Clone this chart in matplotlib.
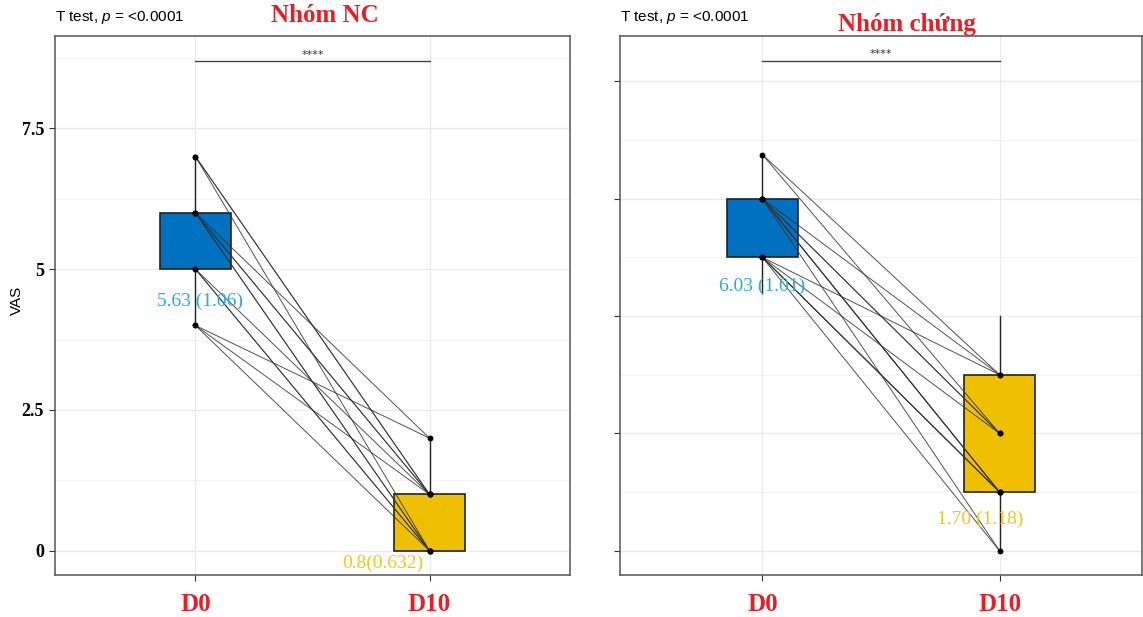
#!/usr/bin/env python3

import matplotlib
matplotlib.use('Agg')
import matplotlib.pyplot as plt

plt.rcParams['mathtext.fontset'] = 'custom'
plt.rcParams['mathtext.rm'] = 'Liberation Sans'
plt.rcParams['mathtext.it'] = 'Liberation Sans:italic'

# ---- data ----
groups = ['D0', 'D10']
titles = ['Nhóm NC', 'Nhóm chứng']
ptext = 'T test, $p$ = <0.0001'

# paired values (D0 -> D10), left panel
nc_d0 = [7, 7, 7, 6, 6, 6, 6, 6, 5, 5, 5, 4, 4, 4]
nc_d10 = [1, 1, 0, 2, 1, 1, 0, 0, 1, 0, 0, 2, 1, 0]
# right panel
ch_d0 = [6.75, 6.75, 6, 6, 6, 6, 6, 6, 6, 5, 5, 5, 5, 5, 5]
ch_d10 = [3, 2, 3, 2, 2, 1, 1, 1, 0, 3, 2, 1, 1, 1, 0]

# box stats: (whislo, q1, med, q3, whishi)
nc_box = [(4, 5, 6, 6, 7), (0, 0, 1, 1, 2)]
ch_box = [(4.4, 5, 6, 6, 6.75), (0, 1, 2, 3, 4)]

nc_labels = ['5.63 (1.06)', '0.8(0.632)']
ch_labels = ['6.03 (1.01)', '1.70 (1.18)']
nc_label_pos = [(1.02, 4.43), (1.8, -0.22)]
ch_label_pos = [(1.0, 4.51), (1.92, 0.53)]

box_colors = ['#0070C0', '#EEC000']
text_colors = ['#29A9E6', '#F5C518']
red = '#ED1C24'

W, H = 1143, 617
fig = plt.figure(figsize=(W / 100, H / 100), dpi=100)

def px(x0, x1, y0, y1):
    return [x0 / W, 1 - y1 / H, (x1 - x0) / W, (y1 - y0) / H]

ax1 = fig.add_axes(px(55, 570, 36, 575))
ax2 = fig.add_axes(px(620, 1142, 36, 575))


def draw(ax, d0, d10, boxes, labels, label_pos, ylim, yticks, yminor, brk_y, ticklabels):
    ax.set_xlim(0.4, 2.6)
    ax.set_ylim(*ylim)
    ax.set_axisbelow(True)
    for y in yticks:
        ax.axhline(y, color='#EBEBEB', lw=0.9, zorder=0)
    for y in yminor:
        ax.axhline(y, color='#F2F2F2', lw=0.6, zorder=0)
    for x in [1, 2]:
        ax.axvline(x, color='#EBEBEB', lw=0.9, zorder=0)

    stats = []
    for b in boxes:
        stats.append(dict(whislo=b[0], q1=b[1], med=b[2], q3=b[3], whishi=b[4]))
    bp = ax.bxp(stats, positions=[1, 2], widths=0.3, showfliers=False,
                showcaps=False, patch_artist=True,
                medianprops=dict(linewidth=0),
                whiskerprops=dict(color='#222222', lw=1),
                boxprops=dict(edgecolor='#222222', lw=1.2))
    for patch, c in zip(bp['boxes'], box_colors):
        patch.set_facecolor(c)
        patch.set_zorder(2)

    for a, b in zip(d0, d10):
        ax.plot([1, 2], [a, b], color='#333333', lw=0.7, alpha=0.85, zorder=3)
    ax.plot([1] * len(d0), d0, 'o', color='black', ms=3, zorder=4)
    ax.plot([2] * len(d10), d10, 'o', color='black', ms=3, zorder=4)

    for i, (t, (x, y)) in enumerate(zip(labels, label_pos)):
        ax.text(x, y, t, color=text_colors[i], fontsize=14, family='Liberation Serif',
                ha='center', va='center', zorder=5)

    ax.plot([1, 2], [brk_y, brk_y], color='#444444', lw=1, zorder=3)
    ax.text(1.5, brk_y + 0.02, '****', ha='center', va='bottom', fontsize=8, color='#333333')

    ax.set_xticks([1, 2])
    ax.set_xticklabels(groups, color=red, fontsize=18, fontweight='bold', family='Liberation Serif')
    ax.set_yticks(yticks)
    ax.set_yticklabels(ticklabels, fontsize=13, fontweight='bold', family='Liberation Serif')
    ax.tick_params(axis='x', length=4, pad=9, color='#333333')
    ax.tick_params(axis='y', length=4, pad=4, color='#333333')
    for s in ax.spines.values():
        s.set_color('#555555')
        s.set_linewidth(1.1)


draw(ax1, nc_d0, nc_d10, nc_box, nc_labels, nc_label_pos, (-0.43, 9.14),
     [0, 2.5, 5, 7.5], [1.25, 3.75, 6.25, 8.75], 8.7, ['0', '2.5', '5', '7.5'])
draw(ax2, ch_d0, ch_d10, ch_box, ch_labels, ch_label_pos, (-0.41, 8.77),
     [0, 2, 4, 6, 8], [1, 3, 5, 7], 8.35, ['', '', '', '', ''])

fig.text(17 / W, 1 - 300 / H, 'VAS', rotation=90, ha='center', va='center',
         fontsize=11, family='Liberation Sans')
fig.text(55 / W, 1 - 17 / H, ptext, ha='left', va='center', fontsize=11, family='Liberation Sans')
fig.text(620 / W, 1 - 17 / H, ptext, ha='left', va='center', fontsize=11, family='Liberation Sans')
fig.text(325 / W, 1 - 15 / H, titles[0], ha='center', va='center', fontsize=18,
         fontweight='bold', color=red, family='Liberation Serif')
fig.text(907 / W, 1 - 25 / H, titles[1], ha='center', va='center', fontsize=18,
         fontweight='bold', color=red, family='Liberation Serif')

fig.savefig('out.png', dpi=100)
plt.close()
